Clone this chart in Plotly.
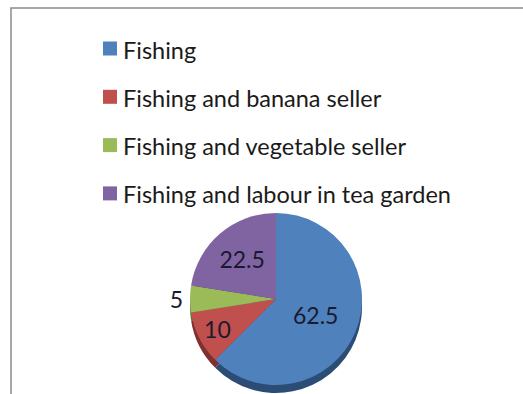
import plotly.graph_objects as go

# Occupation shares of the fishing households (percent)
categories = [
    "Fishing",
    "Fishing and banana seller",
    "Fishing and vegetable seller",
    "Fishing and labour in tea garden",
]
shares = [62.5, 10, 5, 22.5]

face_colors = ["#4F81BD", "#C0504D", "#9BBB59", "#8064A2"]
side_colors = ["#2B4C74", "#7F302E", "#5F7A33", "#4E3B66"]
label_positions = ["inside", "inside", "outside", "inside"]

W, H = 523, 394
FONT = "Lato"
TEXT_COLOR = "#191930"


def px_x(x):
    return x / W


def px_y(y):
    return 1 - y / H


# pie face geometry, in pixels
cx, cy, r = 276, 299, 86
depth = 8

face_domain = dict(
    x=[px_x(cx - r), px_x(cx + r)],
    y=[px_y(cy + r), px_y(cy - r)],
)
side_domain = dict(
    x=face_domain["x"],
    y=[px_y(cy + r + depth), px_y(cy - r + depth)],
)

fig = go.Figure()

# darker copy underneath gives the pie a little thickness
fig.add_trace(go.Pie(
    labels=categories,
    values=shares,
    sort=False,
    direction="clockwise",
    rotation=0,
    domain=side_domain,
    marker=dict(colors=side_colors, line=dict(width=0)),
    textinfo="none",
    hoverinfo="skip",
    showlegend=False,
))

fig.add_trace(go.Pie(
    labels=categories,
    values=shares,
    sort=False,
    direction="clockwise",
    rotation=0,
    domain=face_domain,
    marker=dict(colors=face_colors, line=dict(width=0)),
    texttemplate="%{value}",
    textposition=label_positions,
    insidetextorientation="horizontal",
    textfont=dict(family=FONT, size=23, color=TEXT_COLOR),
    showlegend=False,
    automargin=False,
))

# legend drawn as a column of colour keys and labels
shapes = [
    dict(
        type="rect", xref="paper", yref="paper",
        x0=px_x(11), x1=1.05, y0=-0.05, y1=px_y(8),
        line=dict(color="#8c8c8c", width=1.5),
        fillcolor="rgba(0,0,0,0)",
    )
]
annotations = []
top, step = 48.5, 48.3
for i, (name, color) in enumerate(zip(categories, face_colors)):
    yc = top + i * step
    shapes.append(dict(
        type="rect", xref="paper", yref="paper",
        x0=px_x(103), x1=px_x(117),
        y0=px_y(yc + 7), y1=px_y(yc - 7),
        fillcolor=color, line=dict(width=0),
    ))
    annotations.append(dict(
        xref="paper", yref="paper",
        x=px_x(121), y=px_y(yc + 1),
        xanchor="left", yanchor="middle",
        text=name, showarrow=False,
        font=dict(family=FONT, size=23.5, color="#1a1a1a"),
    ))

fig.update_layout(
    width=W, height=H,
    margin=dict(l=0, r=0, t=0, b=0),
    paper_bgcolor="white",
    plot_bgcolor="white",
    shapes=shapes,
    annotations=annotations,
)

fig.write_html("out.html")
